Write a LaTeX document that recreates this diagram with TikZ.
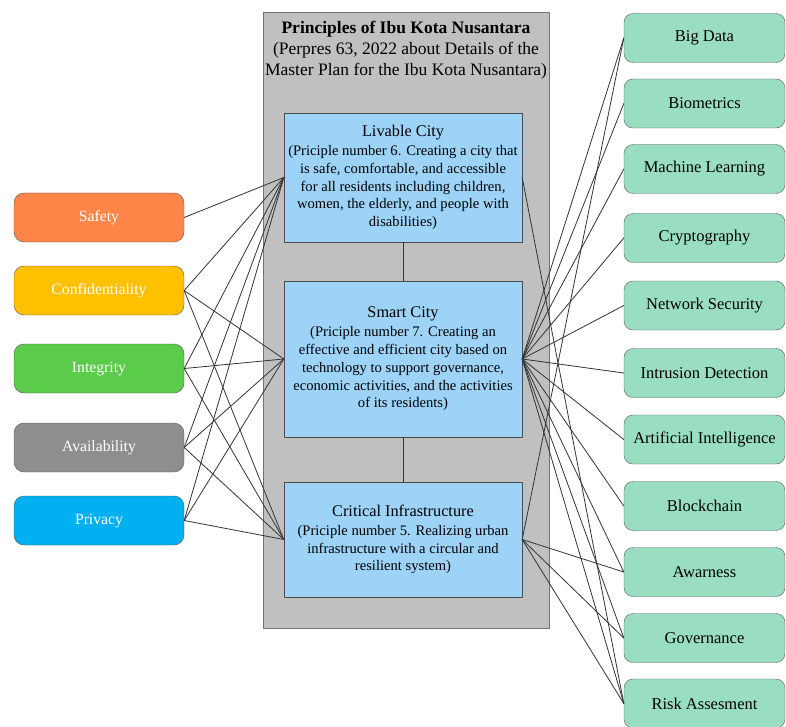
\documentclass[tikz,border=0pt]{standalone}
\usepackage{fontspec}
\setmainfont{Liberation Serif}
\usetikzlibrary{arrows}

\definecolor{safetyc}{HTML}{FF8548}
\definecolor{confc}{HTML}{FFC000}
\definecolor{integc}{HTML}{5BCB4A}
\definecolor{availc}{HTML}{8E8E8E}
\definecolor{privc}{HTML}{00B0F0}
\definecolor{techc}{HTML}{9ADEC1}
\definecolor{princc}{HTML}{9DD3F7}
\definecolor{ikngray}{HTML}{C0C0C0}

\newcommand{\princhead}[1]{{\fontsize{16.3}{19.3}\selectfont #1}}

\tikzset{
  prop/.style={draw=black!65, rounded corners=10pt, minimum width=170pt, minimum height=49pt, text=white, font=\fontsize{15.7}{18}\selectfont},
  tech/.style={draw=black!65, fill=techc, rounded corners=9pt, minimum width=161pt, minimum height=49pt, font=\fontsize{16.5}{19}\selectfont},
  principle/.style={draw=black!70, fill=princc, minimum width=238pt, align=center, font=\fontsize{14.6}{17.8}\selectfont},
  link/.style={draw=black!80, line width=0.8pt}
}

\begin{document}
\begin{tikzpicture}[line cap=round,line join=round,x=1pt,y=-1pt]
\useasboundingbox (0,0) rectangle (786,727);
% gray frame and its title
\node (ikn) [draw=black!55, fill=ikngray, minimum width=286pt, minimum height=616pt] at (406,320) {};
\node (title) [align=center, font=\fontsize{17.5}{21}\selectfont] at (406,50) {\textbf{Principles of Ibu Kota Nusantara}\\(Perpres 63, 2022 about Details of the\\Master Plan for the Ibu Kota Nusantara)};

% principles
\node (livable) [principle, minimum height=129pt] at (403,177.5) {\princhead{Livable City}\\[1pt](Priciple number 6. Creating a city that\\is safe, comfortable, and accessible\\for all residents including children,\\women, the elderly, and people with\\disabilities)};
\node (smart) [principle, minimum height=156pt] at (403,359) {\princhead{Smart City}\\[1pt](Priciple number 7. Creating an\\effective and efficient city based on\\technology to support governance,\\economic activities, and the activities\\of its residents)};
\node (critical) [principle, minimum height=115pt] at (403,539.5) {\princhead{Critical Infrastructure}\\[1pt](Priciple number 5. Realizing urban\\infrastructure with a circular and\\resilient system)};
\draw [link] (livable.south)-- (smart.north);
\draw [link] (smart.south)-- (critical.north);

% security properties
\node (safety) [prop, fill=safetyc] at (99,217.5) {Safety};
\node (conf) [prop, fill=confc] at (99,290.5) {Confidentiality};
\node (integ) [prop, fill=integc] at (99,368.5) {Integrity};
\node (avail) [prop, fill=availc] at (99,447.5) {Availability};
\node (privacy) [prop, fill=privc] at (99,520.5) {Privacy};

% technologies
\node (bigdata) [tech] at (704.5,38) {Big Data};
\node (biometrics) [tech] at (704.5,103.5) {Biometrics};
\node (ml) [tech] at (704.5,169) {Machine Learning};
\node (crypto) [tech] at (704.5,238) {Cryptography};
\node (netsec) [tech] at (704.5,305.5) {Network Security};
\node (ids) [tech] at (704.5,373) {Intrusion Detection};
\node (ai) [tech] at (704.5,439.5) {Artificial Intelligence};
\node (blockchain) [tech] at (704.5,506) {Blockchain};
\node (awarness) [tech] at (704.5,572) {Awarness};
\node (governance) [tech] at (704.5,638) {Governance};
\node (risk) [tech] at (704.5,703.5) {Risk Assesment};

% left links
\draw [link] (safety.east)-- (livable.west);
\draw [link] (conf.east)-- (livable.west);
\draw [link] (conf.east)-- (smart.west);
\draw [link] (conf.east)-- (critical.west);
\draw [link] (integ.east)-- (livable.west);
\draw [link] (integ.east)-- (smart.west);
\draw [link] (integ.east)-- (critical.west);
\draw [link] (avail.east)-- (livable.west);
\draw [link] (avail.east)-- (smart.west);
\draw [link] (avail.east)-- (critical.west);
\draw [link] (privacy.east)-- (livable.west);
\draw [link] (privacy.east)-- (smart.west);
\draw [link] (privacy.east)-- (critical.west);

% right links
\draw [link] (livable.east)-- (risk.west);
\draw [link] (smart.east)-- (bigdata.west);
\draw [link] (smart.east)-- (biometrics.west);
\draw [link] (smart.east)-- (ml.west);
\draw [link] (smart.east)-- (crypto.west);
\draw [link] (smart.east)-- (netsec.west);
\draw [link] (smart.east)-- (ids.west);
\draw [link] (smart.east)-- (ai.west);
\draw [link] (smart.east)-- (blockchain.west);
\draw [link] (smart.east)-- (awarness.west);
\draw [link] (smart.east)-- (governance.west);
\draw [link] (smart.east)-- (risk.west);
\draw [link] (critical.east)-- (bigdata.west);
\draw [link] (critical.east)-- (awarness.west);
\draw [link] (critical.east)-- (governance.west);
\draw [link] (critical.east)-- (risk.west);
\end{tikzpicture}
\end{document}
